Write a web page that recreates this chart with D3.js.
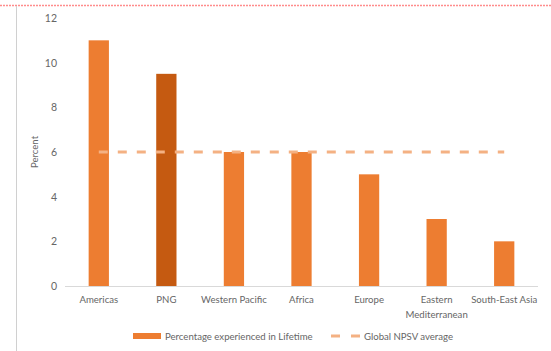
<!DOCTYPE html>
<html><head><meta charset="utf-8">
<script src="https://cdn.jsdelivr.net/npm/d3@7"></script>
<style>body{margin:0;background:#fff}svg{display:block}text{font-family:Lato,"Open Sans",sans-serif;fill:#666666}</style>
</head><body>
<svg id="c" width="551" height="351"></svg>
<script>
const categories = ["Americas","PNG","Western Pacific","Africa","Europe","Eastern Mediterranean","South-East Asia"];
const labelLines = [["Americas"],["PNG"],["Western Pacific"],["Africa"],["Europe"],["Eastern","Mediterranean"],["South-East Asia"]];
const lifetimeValues = [11, 9.5, 6, 6, 5, 3, 2];
const globalAverage = [6, 6, 6, 6, 6, 6, 6];
const yTicks = [0, 2, 4, 6, 8, 10, 12];
const seriesNames = ["Percentage experienced in Lifetime", "Global NPSV average"];

const FS = "9.6px";
const svg = d3.select("#c");
const x = d3.scaleBand().domain(categories).range([65, 538]).paddingInner(0.7).paddingOuter(0.35);
const y = d3.scaleLinear().domain([0, 12]).range([286, 18]);

// frame decorations
svg.append("line").attr("x1",0).attr("x2",551).attr("y1",5.5).attr("y2",5.5)
  .attr("stroke","#ff8c8c").attr("stroke-width",1.5).attr("stroke-dasharray","2,1");
svg.append("line").attr("x1",16.5).attr("x2",16.5).attr("y1",6).attr("y2",351)
  .attr("stroke","#d0d0d0").attr("stroke-width",1);

// y tick labels
const yAxis = d3.axisLeft(y).tickValues(yTicks).tickSize(0).tickPadding(0);
const ya = svg.append("g").attr("transform","translate(57,0)").call(yAxis);
ya.select(".domain").remove();
ya.selectAll("text").style("font-size","10.5px").attr("fill","#6b6b6b").style("font-family","Lato,'Open Sans',sans-serif");

// baseline
svg.append("line").attr("x1",65).attr("x2",538).attr("y1",y(0)+0.5).attr("y2",y(0)+0.5)
  .attr("stroke","#d9d9d9").attr("stroke-width",1);

// bars
svg.selectAll("rect.bar").data(categories).join("rect").attr("class","bar")
  .attr("x", d => x(d)).attr("width", x.bandwidth())
  .attr("y", (d,i) => y(lifetimeValues[i])).attr("height", (d,i) => y(0) - y(lifetimeValues[i]))
  .attr("fill", d => d === "PNG" ? "#c55a11" : "#ed7d31");

// average line
const line = d3.line().x((d,i) => x(categories[i]) + x.bandwidth()/2).y(d => y(d));
svg.append("path").datum(globalAverage).attr("d", line).attr("fill","none")
  .attr("stroke","#f4b183").attr("stroke-width",3).attr("stroke-dasharray","9,10");

// x labels
const xl = svg.append("g");
categories.forEach((c,i) => {
  const t = xl.append("text").attr("x", x(c) + x.bandwidth()/2).attr("y", 303)
    .attr("text-anchor","middle").style("font-size",FS);
  labelLines[i].forEach((ln,j) => t.append("tspan").attr("x", x(c) + x.bandwidth()/2).attr("dy", j ? 15 : 0).text(ln));
});

// y title
svg.append("text").attr("transform","translate(38,152) rotate(-90)").attr("text-anchor","middle")
  .style("font-size",FS).text("Percent");

// legend
svg.append("rect").attr("x",133).attr("y",333).attr("width",28).attr("height",6).attr("fill","#ed7d31");
svg.append("text").attr("x",165).attr("y",339.5).style("font-size",FS).text(seriesNames[0]);
svg.append("line").attr("x1",331).attr("x2",360).attr("y1",336).attr("y2",336)
  .attr("stroke","#f4b183").attr("stroke-width",3).attr("stroke-dasharray","9,11");
svg.append("text").attr("x",364).attr("y",339.5).style("font-size",FS).text(seriesNames[1]);
</script>
</body></html>
